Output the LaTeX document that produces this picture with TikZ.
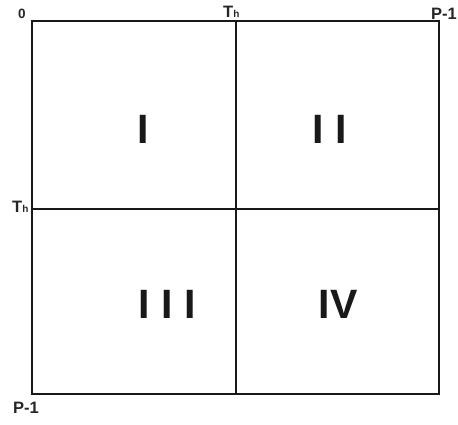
\documentclass[tikz,border=0pt]{standalone}
\usepackage{fontspec}
\setmainfont{Liberation Sans}
\tikzset{
  frame/.style={line width=1.6pt, draw=black!90},
  numeral/.style={font=\fontsize{41}{44}\selectfont\bfseries, text=black!90, inner sep=0pt, anchor=base},
  axislabel/.style={font=\fontsize{16.5}{18}\selectfont\bfseries, text=black!85, inner sep=0pt},
}
\newcommand{\thlabel}{T{\fontsize{10}{11}\selectfont h}}
\begin{document}
\begin{tikzpicture}[x=1pt,y=-1pt]
\useasboundingbox (0,0) rectangle (458,424);
\coordinate (tl) at (32,21);
\coordinate (br) at (439,394);
\coordinate (vt) at (236,21);
\coordinate (vb) at (236,394);
\coordinate (hl) at (32,209);
\coordinate (hr) at (439,209);
\draw[frame] (tl) rectangle (br);
\draw[frame] (vt) -- (vb);
\draw[frame] (hl) -- (hr);
\node[numeral] (q1) at (143,143) {I};
\node[numeral] (q2) at (330,143) {I I};
\node[numeral] (q3) at (167,318) {I I I};
\node[numeral] (q4) at (338,318) {IV};
\node[axislabel, font=\fontsize{13.5}{15}\selectfont\bfseries, anchor=base] (zero) at (22,18.5) {0};
\node[axislabel, anchor=base west] (thtop) at (223,17.5) {\thlabel};
\node[axislabel, anchor=base west] (ptop) at (431,19) {P-1};
\node[axislabel, anchor=base west] (thleft) at (12,212.5) {\thlabel};
\node[axislabel, anchor=base west] (pbot) at (13,413) {P-1};
\end{tikzpicture}
\end{document}
